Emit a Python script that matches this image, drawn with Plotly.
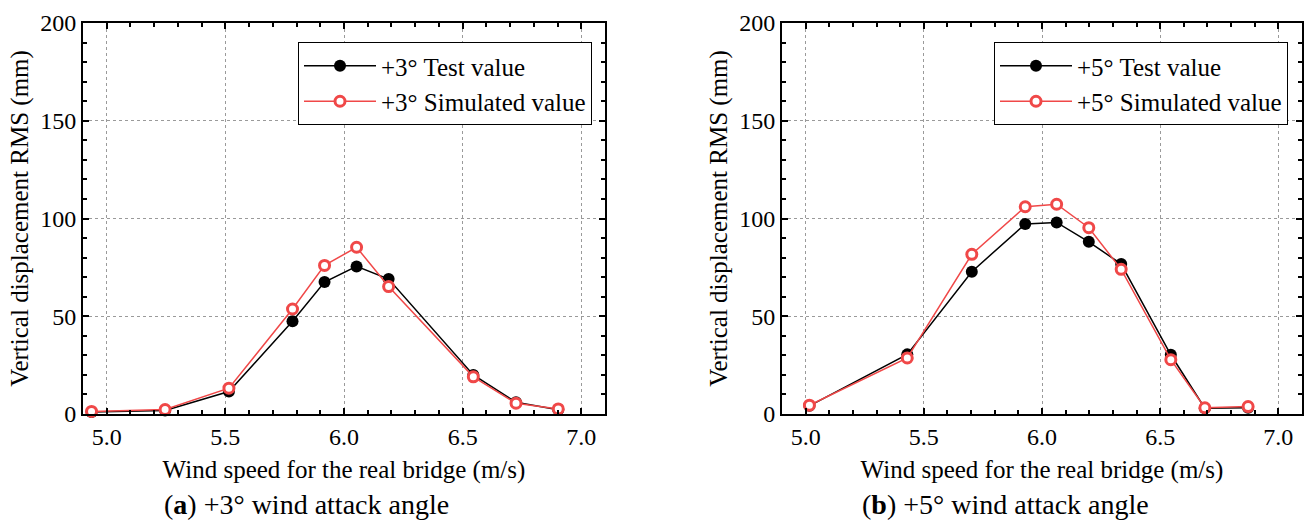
import plotly.graph_objects as go

# ---- data ----
x_a = [4.936, 5.246, 5.515, 5.783, 5.918, 6.053, 6.188, 6.545, 6.725, 6.903]
test_a = [1.0, 1.8, 11.5, 47.5, 67.5, 75.5, 69.0, 20.0, 6.0, 2.2]
sim_a = [1.3, 2.3, 13.2, 53.7, 76.0, 85.3, 65.2, 19.0, 5.5, 2.6]

x_b = [5.016, 5.43, 5.703, 5.929, 6.062, 6.198, 6.335, 6.545, 6.689, 6.872]
test_b = [4.2, 30.5, 72.8, 97.2, 98.0, 88.1, 76.7, 30.3, 3.0, 3.2]
sim_b = [4.5, 28.7, 81.7, 106.0, 107.3, 95.3, 74.0, 27.8, 3.2, 3.8]

x_ticks = [5.0, 5.5, 6.0, 6.5, 7.0]
y_ticks = [0, 50, 100, 150, 200]

W, H = 1307, 522
FONT = "Liberation Serif, Times New Roman, serif"
RED = "#F04848"

fig = go.Figure()

def add_pair(xs, t, s, angle, xa, ya, leg):
    fig.add_trace(go.Scatter(
        x=xs, y=t, mode="lines+markers", name=f"+{angle}° Test value",
        line=dict(color="black", width=1.5),
        marker=dict(symbol="circle", size=12, color="black"),
        xaxis=xa, yaxis=ya, legend=leg, cliponaxis=False))
    fig.add_trace(go.Scatter(
        x=xs, y=s, mode="lines+markers", name=f"+{angle}° Simulated value",
        line=dict(color=RED, width=1.5),
        marker=dict(symbol="circle", size=10, color="white",
                    line=dict(color=RED, width=3)),
        xaxis=xa, yaxis=ya, legend=leg, cliponaxis=False))

add_pair(x_a, test_a, sim_a, 3, "x", "y", "legend")
add_pair(x_b, test_b, sim_b, 5, "x2", "y2", "legend2")

def px(v):
    return v / W

def py(v):
    return 1 - v / H

common_x = dict(
    range=[4.9, 7.1], tickvals=x_ticks, tickformat=".1f",
    showline=True, linecolor="black", linewidth=2, mirror="allticks",
    ticks="inside", ticklen=6, tickwidth=2, tickcolor="black",
    minor=dict(dtick=0.1, tick0=5.0, ticks="inside", ticklen=4, tickwidth=1.5,
               tickcolor="black", showgrid=False),
    showgrid=True, gridcolor="#9a9a9a", gridwidth=1, griddash="3px,3px",
    zeroline=False,
    tickfont=dict(family=FONT, size=24, color="black"),
    title=dict(text="Wind speed for the real bridge (m/s)",
               font=dict(family=FONT, size=25, color="black"), standoff=12),
    automargin=False,
)
common_y = dict(
    range=[0, 200], tickvals=y_ticks,
    showline=True, linecolor="black", linewidth=2, mirror="allticks",
    ticks="inside", ticklen=6, tickwidth=2, tickcolor="black",
    minor=dict(dtick=10, tick0=0, ticks="inside", ticklen=4, tickwidth=1.5,
               tickcolor="black", showgrid=False),
    showgrid=True, gridcolor="#9a9a9a", gridwidth=1, griddash="3px,3px",
    zeroline=False,
    tickfont=dict(family=FONT, size=24, color="black"),
    title=dict(text="Vertical displacement RMS (mm)",
               font=dict(family=FONT, size=25, color="black"), standoff=4),
    automargin=False,
)

legend_common = dict(
    xanchor="left", yanchor="top",
    bgcolor="white", bordercolor="black", borderwidth=1,
    font=dict(family=FONT, size=25, color="black"),
    itemwidth=72,
)

fig.update_layout(
    width=W, height=H,
    margin=dict(l=0, r=0, t=0, b=0),
    paper_bgcolor="white", plot_bgcolor="white",
    font=dict(family=FONT, color="black"),
    xaxis=dict(domain=[px(83), px(605)], anchor="y", **common_x),
    yaxis=dict(domain=[py(414), py(23)], anchor="x", **common_y),
    xaxis2=dict(domain=[px(782), px(1302)], anchor="y2", **common_x),
    yaxis2=dict(domain=[py(414), py(23)], anchor="x2", **common_y),
    legend=dict(x=px(298), y=py(42), **legend_common),
    legend2=dict(x=px(994), y=py(42), **legend_common),
    annotations=[
        dict(text="(<b>a</b>) +3° wind attack angle", x=px(306), y=py(504),
             xref="paper", yref="paper", xanchor="center", yanchor="middle",
             showarrow=False, font=dict(family=FONT, size=28, color="black")),
        dict(text="(<b>b</b>) +5° wind attack angle", x=px(1005), y=py(504),
             xref="paper", yref="paper", xanchor="center", yanchor="middle",
             showarrow=False, font=dict(family=FONT, size=28, color="black")),
    ],
)

fig.write_html("out.html")
